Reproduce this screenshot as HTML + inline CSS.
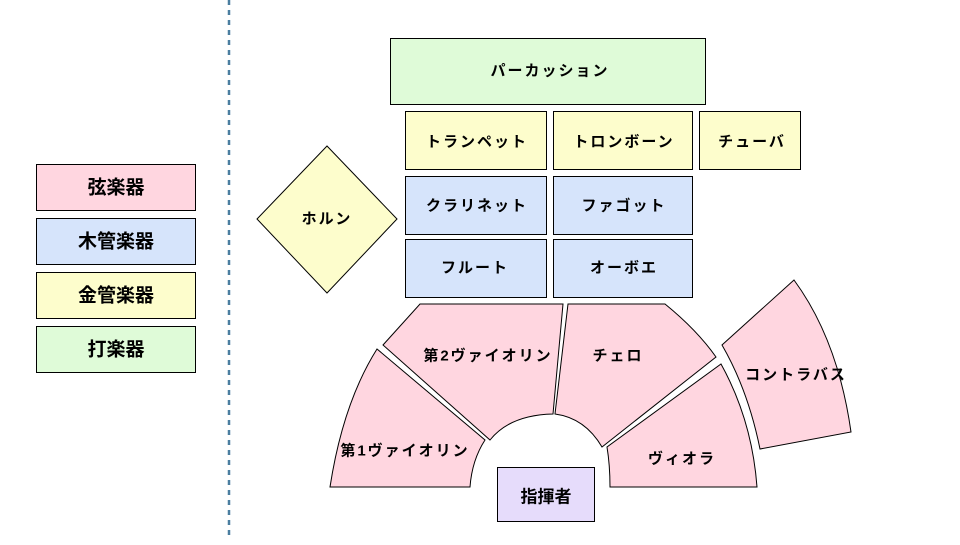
<!DOCTYPE html>
<html><head><meta charset="utf-8"><style>
body{margin:0;background:#fff}
svg text{font-family:"Liberation Sans","Noto Sans CJK JP",sans-serif;font-weight:bold;font-size:15px;letter-spacing:2px;text-anchor:middle;dominant-baseline:central;fill:#000}
svg text.lg{font-size:19px;letter-spacing:0}
</style></head><body>
<svg width="960" height="540" viewBox="0 0 960 540" xmlns="http://www.w3.org/2000/svg">
<line x1="229" y1="0" x2="229" y2="540" stroke="#4a7ea0" stroke-width="2.5" stroke-dasharray="5,5"/>
<g stroke="#000" stroke-width="1">
<rect x="36.5" y="164.5" width="159" height="46" fill="#ffd6e0"/>
<rect x="36.5" y="218.5" width="159" height="46" fill="#d6e4fb"/>
<rect x="36.5" y="272.5" width="159" height="46" fill="#fdfdcc"/>
<rect x="36.5" y="326.5" width="159" height="46" fill="#dffbd8"/>
<rect x="390.5" y="38.5" width="315" height="66" fill="#dffbd8"/>
<rect x="405.5" y="111.5" width="141" height="58" fill="#fdfdcc"/>
<rect x="553.5" y="111.5" width="139" height="58" fill="#fdfdcc"/>
<rect x="699.5" y="111.5" width="101" height="58" fill="#fdfdcc"/>
<rect x="405.5" y="176.5" width="141" height="58" fill="#d6e4fb"/>
<rect x="553.5" y="176.5" width="139" height="58" fill="#d6e4fb"/>
<rect x="405.5" y="239.5" width="141" height="58" fill="#d6e4fb"/>
<rect x="553.5" y="239.5" width="139" height="58" fill="#d6e4fb"/>
<polygon points="327,146 397,219 327,293 257,219" fill="#fdfdcc"/>
<path d="M330,487 Q343,403 377,349 L485,440 Q472,460 470,487 Z" fill="#ffd6e0"/>
<path d="M383,345 L420,304 L563,304 L553,414 Q510,415 490,440 Z" fill="#ffd6e0"/>
<path d="M568,304 L665,304 Q697,330 716,357 L602,447 Q585,418 555,414 Z" fill="#ffd6e0"/>
<path d="M721,364 Q752,420 757,487 L610,487 Q610,465 607,447 Z" fill="#ffd6e0"/>
<path d="M794,280 Q838,340 851,432 L760,449 Q748,390 722,345 Z" fill="#ffd6e0"/>
<rect x="497.5" y="467.5" width="97" height="54" fill="#e6dcfb"/>
</g>
<text class="lg" x="116" y="188">弦楽器</text>
<text class="lg" x="116" y="242">木管楽器</text>
<text class="lg" x="116" y="296">金管楽器</text>
<text class="lg" x="116" y="350">打楽器</text>
<text x="550" y="71">パーカッション</text>
<text x="477" y="142">トランペット</text>
<text x="624" y="142">トロンボーン</text>
<text x="752" y="142">チューバ</text>
<text x="477" y="206">クラリネット</text>
<text x="624" y="206">ファゴット</text>
<text x="475" y="268">フルート</text>
<text x="624" y="268">オーボエ</text>
<text x="327" y="219">ホルン</text>
<text x="405" y="451">第1ヴァイオリン</text>
<text x="488" y="356">第2ヴァイオリン</text>
<text x="618" y="356">チェロ</text>
<text x="682" y="459">ヴィオラ</text>
<text x="796" y="375">コントラバス</text>
<text x="546" y="497" style="font-size:17px;letter-spacing:0">指揮者</text>
</svg>
</body></html>
